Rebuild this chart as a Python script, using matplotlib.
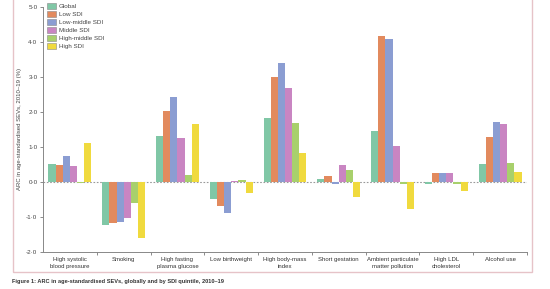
import matplotlib
matplotlib.use("Agg")
import matplotlib.pyplot as plt
from matplotlib.patches import Rectangle
import numpy as np

categories = ["High systolic\nblood pressure", "Smoking", "High fasting\nplasma glucose",
              "Low birthweight", "High body-mass\nindex", "Short gestation",
              "Ambient particulate\nmatter pollution", "High LDL\ncholesterol", "Alcohol use"]
series_names = ["Global", "Low SDI", "Low-middle SDI", "Middle SDI", "High-middle SDI", "High SDI"]
global_vals      = [0.51, -1.22, 1.31, -0.48, 1.84, 0.10, 1.47, -0.06, 0.51]
low_vals         = [0.48, -1.16, 2.02, -0.69, 3.00, 0.18, 4.17, 0.25, 1.28]
lowmiddle_vals   = [0.74, -1.14, 2.42, -0.88, 3.40, -0.06, 4.08, 0.25, 1.71]
middle_vals      = [0.46, -1.03, 1.25, 0.02, 2.69, 0.50, 1.02, 0.27, 1.65]
highmiddle_vals  = [-0.03, -0.61, 0.19, 0.07, 1.68, 0.33, -0.05, -0.06, 0.53]
high_vals        = [1.12, -1.61, 1.67, -0.32, 0.83, -0.43, -0.76, -0.26, 0.29]
yticks = [-2, -1, 0, 1, 2, 3, 4, 5]

series = [global_vals, low_vals, lowmiddle_vals, middle_vals, highmiddle_vals, high_vals]
colors = ["#80c7a6", "#e28a5e", "#8b9dd2", "#c985c2", "#a8d06c", "#f0da3e"]

plt.rcParams["font.family"] = ["Liberation Sans", "DejaVu Sans"]

fig = plt.figure(figsize=(5.5, 2.89), dpi=100)
fig.patch.set_facecolor("white")
ax = fig.add_axes([43/550, 1-252/289, (527-43)/550, (252-7)/289])

x = np.arange(len(categories))
w = 0.133
for i, (vals, c, name) in enumerate(zip(series, colors, series_names)):
    ax.bar(x + (i - 2.5) * w, vals, width=w, color=c, label=name, zorder=2, linewidth=0)

ax.axhline(0, color="#999999", lw=0.8, ls=(0, (1.5, 1.5)), zorder=1)
ax.set_xlim(-0.5, 8.5)
ax.set_ylim(-2, 5)
ax.set_yticks(yticks)
ax.set_yticklabels([("%.1f" % v).replace(".", "·") for v in yticks], fontsize=4.5, color="#444444")
ax.set_xticks(x)
ax.set_xticklabels(categories, fontsize=4.3, color="#333333", linespacing=1.5)
ax.set_xticks(np.arange(0.5, 9, 1), minor=True)
ax.tick_params(axis="x", which="major", length=0, pad=3.5)
ax.tick_params(axis="x", which="minor", length=2.5, color="#777777", width=0.6)
ax.tick_params(axis="y", length=2.5, color="#777777", width=0.6, pad=1.5)
for s in ["top", "right"]:
    ax.spines[s].set_visible(False)
ax.spines["left"].set_color("#888888")
ax.spines["bottom"].set_color("#888888")
ax.spines["left"].set_linewidth(0.7)
ax.spines["bottom"].set_linewidth(0.7)
ax.set_ylabel("ARC in age-standardised SEVs, 2010–19 (%)", fontsize=4.3, color="#444444", labelpad=3)

leg = ax.legend(loc="upper left", bbox_to_anchor=(0.0, 1.035), prop={"size": 4.5}, frameon=False,
                handlelength=1.4, handleheight=1.05, handletextpad=0.4, labelspacing=0.32,
                borderaxespad=0.3)
for t in leg.get_texts():
    t.set_color("#444444")
for p in leg.get_patches():
    p.set_edgecolor("#888888")
    p.set_linewidth(0.4)

fig.patches.append(Rectangle((13/550, 1-272/289), (532-13)/550, 280/289, transform=fig.transFigure,
                             fill=False, edgecolor="#e6c3c8", lw=1.0, clip_on=False))
fig.text(12/550, 1-282/289, "Figure 1: ARC in age-standardised SEVs, globally and by SDI quintile, 2010–19",
         fontsize=4.05, fontweight="bold", color="#333333", va="center")

fig.savefig("out.png", dpi=100)
